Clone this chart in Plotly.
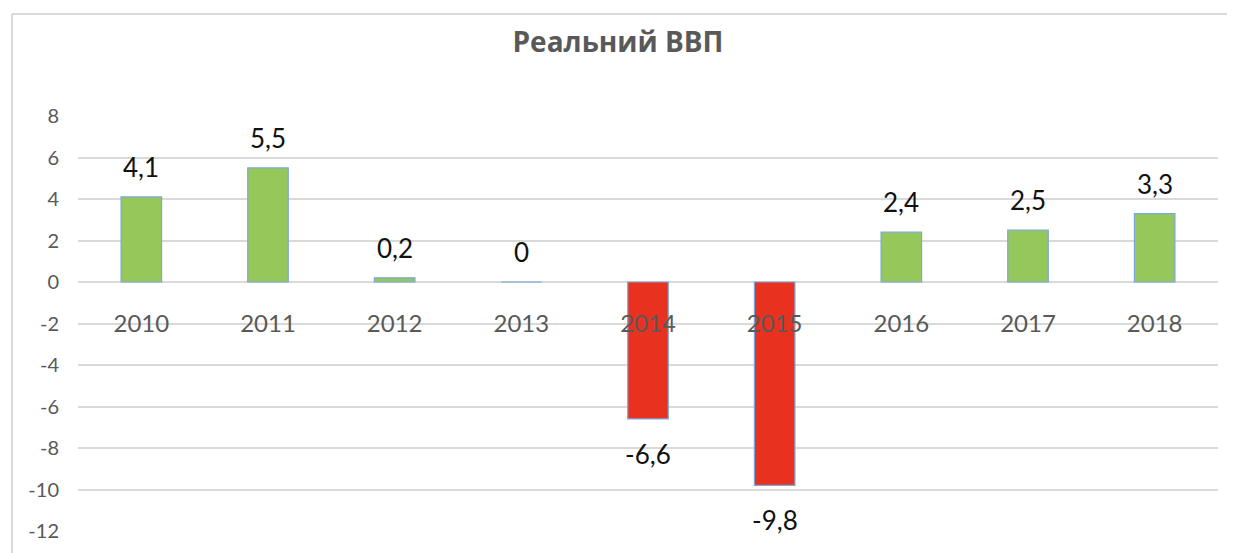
import plotly.graph_objects as go

years = ["2010", "2011", "2012", "2013", "2014", "2015", "2016", "2017", "2018"]
gdp = [4.1, 5.5, 0.2, 0.0, -6.6, -9.8, 2.4, 2.5, 3.3]
y_ticks = [8, 6, 4, 2, 0, -2, -4, -6, -8, -10, -12]

GREEN = "#95C75A"
RED = "#E8321F"
EDGE = "#7DA7D9"
GRID = "#D9D9D9"
GRAY = "#595959"
FONT = "Lato, Open Sans, sans-serif"

W, H = 1227, 545
L, T, PW, PH = 70, 108, 1140, 415
R = W - L - PW
B = H - T - PH

colors = [GREEN if v >= 0 else RED for v in gdp]

fig = go.Figure()
fig.add_trace(go.Bar(
    x=years, y=gdp,
    marker=dict(color=colors, line=dict(color=EDGE, width=1.2)),
    width=0.32,
    hoverinfo="skip",
))

def fmt(v):
    return ("%g" % v).replace(".", ",")

for i, v in enumerate(gdp):
    fig.add_annotation(
        x=i, y=v, xref="x", yref="y",
        text=fmt(v), showarrow=False,
        yshift=30 if v >= 0 else -35,
        font=dict(family=FONT, size=26, color="#111111"),
    )

# chart frame (top and left edges)
fx = (4 - L) / PW
fy = (T + PH - 6) / PH
fig.add_shape(type="line", xref="paper", yref="paper",
              x0=fx, x1=(W - L) / PW, y0=fy, y1=fy,
              line=dict(color=GRID, width=2))
fig.add_shape(type="line", xref="paper", yref="paper",
              x0=fx, x1=fx, y0=-B / PH, y1=fy,
              line=dict(color=GRID, width=2))

fig.update_layout(
    width=W, height=H,
    margin=dict(l=L, r=R, t=T, b=B),
    paper_bgcolor="white", plot_bgcolor="white",
    showlegend=False,
    title=dict(text="<b>Реальний ВВП</b>", x=(618 - 8 - L) / PW * PW / W + L / W, xanchor="center",
               y=1 - 34 / H, yanchor="middle",
               font=dict(family="Open Sans, sans-serif", size=28, color=GRAY)),
    xaxis=dict(
        type="category", anchor="free", position=12 / 20,
        range=[-0.5, len(years) - 0.5],
        showgrid=False, showline=False, zeroline=False, ticks="",
        ticklabelstandoff=25,
        tickfont=dict(family=FONT, size=24, color=GRAY),
    ),
    yaxis=dict(
        range=[-12, 8], tickvals=y_ticks, ticktext=[str(t) for t in y_ticks],
        showgrid=True, gridcolor=GRID, gridwidth=1.5,
        zeroline=True, zerolinecolor=GRID, zerolinewidth=1.5,
        showline=False, ticks="", ticklabelstandoff=18,
        tickfont=dict(family=FONT, size=20, color=GRAY),
    ),
)

fig.write_html("out.html")
